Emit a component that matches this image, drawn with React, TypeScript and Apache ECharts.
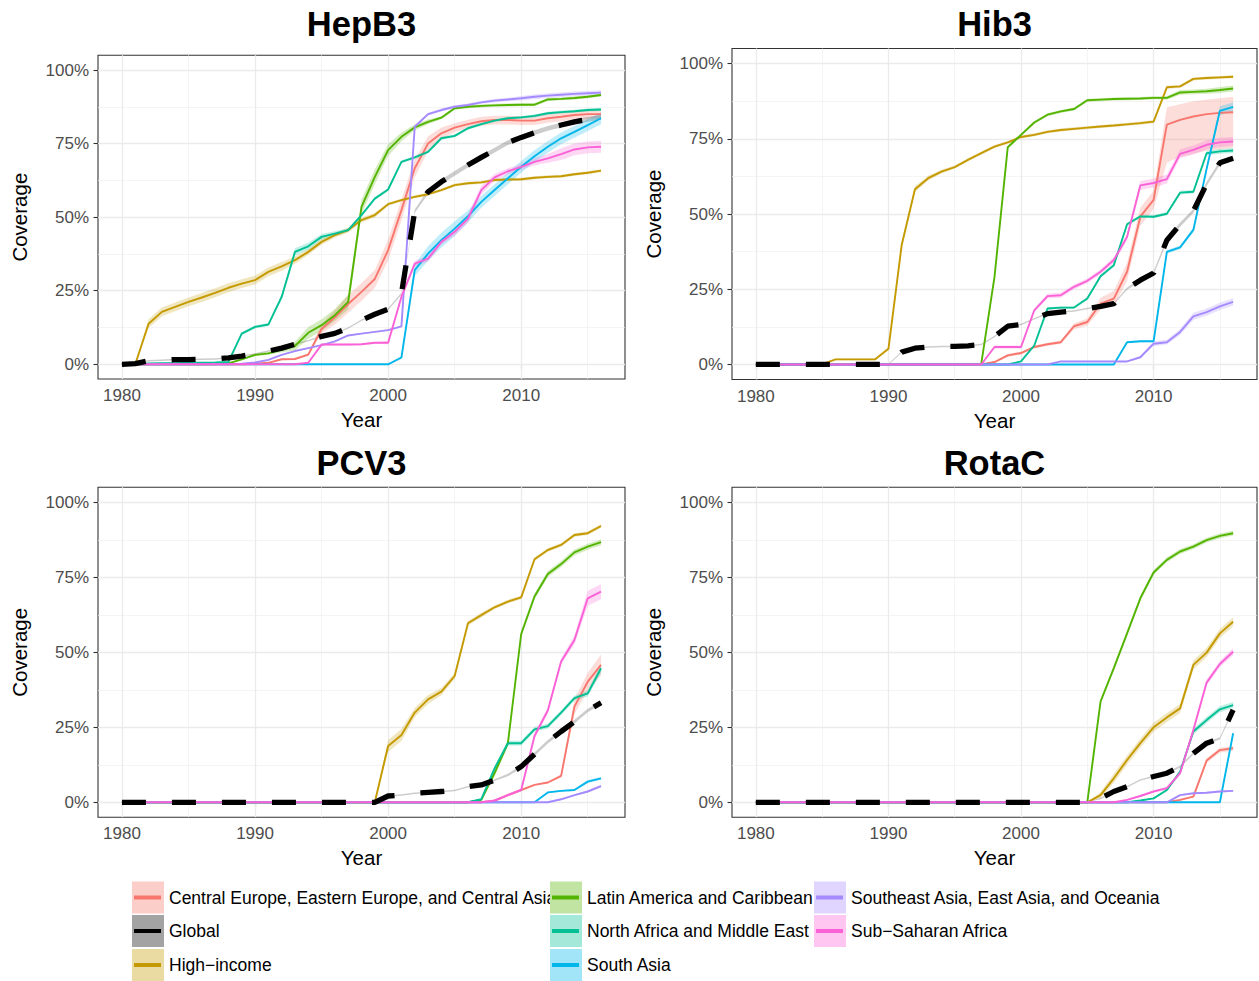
import React, { useEffect, useRef } from "react";
import * as echarts from "echarts";

// ---------------- categories ----------------
const YEARS = [
  1980, 1981, 1982, 1983, 1984, 1985, 1986, 1987, 1988, 1989,
  1990, 1991, 1992, 1993, 1994, 1995, 1996, 1997, 1998, 1999,
  2000, 2001, 2002, 2003, 2004, 2005, 2006, 2007, 2008, 2009,
  2010, 2011, 2012, 2013, 2014, 2015, 2016,
];
const REGIONS = [
  "Central Europe, Eastern Europe, and Central Asia",
  "Global",
  "High\u2212income",
  "Latin America and Caribbean",
  "North Africa and Middle East",
  "South Asia",
  "Southeast Asia, East Asia, and Oceania",
  "Sub\u2212Saharan Africa",
];
const COLORS = ["#F8766D", "#000000", "#C49A00", "#53B400", "#00C094", "#00B6EB", "#A58AFF", "#FB61D7"];
const X_TICKS = [1980, 1990, 2000, 2010];
const X_MINOR = [1985, 1995, 2005, 2015];
const Y_TICKS = [0, 25, 50, 75, 100];
const Y_MINOR = [12.5, 37.5, 62.5, 87.5];

// ---------------- HepB3 ----------------
const HEPB3_CE = [0,0,0,0,0,0,0,0,0,0, 0.2,0.5,1.7,1.8,3.3,12,16,20.5,24.6,29, 38.8,52.4,66.6,75,78.5,80.4,81.6,82.6,83,83, 82.8,82.8,83.6,84.1,84.7,85,85];
const HEPB3_GL = [0,0.2,1.2,1.4,1.6,1.6,1.7,1.8,2.2,2.8, 3.5,4.5,5.5,6.8,8,9.5,10.5,12.3,15,17, 18.7,24,52,58.6,62,64.9,67.7,70.3,72.8,75.3, 77.1,78.7,80.2,81.3,82.4,83.2,83.9];
const HEPB3_HI = [0,0,13.8,17.8,19.5,21.2,22.7,24.3,26,27.4, 28.6,31.4,33.3,35.4,38.2,41.6,43.9,45.6,49,50.7, 54.4,55.8,56.9,57.8,59.2,60.9,61.5,61.8,62.6,62.8, 62.9,63.4,63.7,63.9,64.6,65.1,65.8];
const HEPB3_LA = [0,0,0,0,0,0,0,0,0.3,1.7, 3.2,3.7,4.9,6.2,10.7,13.3,16.7,21.2,53.5,63.7, 72.8,77.3,80.5,82.4,83.8,87,87.5,87.8,88,88.1, 88.2,88.2,90,90.2,90.5,90.9,91.5];
const HEPB3_NA = [0,0,0.3,0.4,0.4,0.5,0.5,0.6,0.8,10.4, 12.7,13.5,22.9,38.2,40.1,43.3,44.4,45.6,50.7,56.3, 59.4,68.8,70.3,72.2,76.8,77.6,80.2,81.6,82.8,83.6, 83.9,84.4,85.3,85.7,86,86.4,86.6];
const HEPB3_SA = [0,0,0,0,0,0,0,0,0,0, 0,0,0,0,0,0,0,0,0,0, 0,2.3,32,37.6,42.2,46.1,50.3,55.2,59.2,63.2, 67.1,70.7,73.9,76.8,79,81.3,83.6];
const HEPB3_SE = [0,0,0,0,0,0,0,0,0,0.2, 0.6,1.5,3.2,4.5,5.5,6.5,7.8,9.8,10.4,11, 11.6,12.9,80.7,85,86.4,87.5,88.1,89,89.6,90, 90.4,90.9,91.3,91.6,91.9,92.1,92.3];
const HEPB3_SS = [0,0,0,0,0,0,0,0,0,0, 0,0,0,0,0.5,6.7,6.7,6.7,6.8,7.3, 7.3,22.9,34.2,35.9,41.6,45,49.5,59.2,63.5,65.6, 67.1,68.8,70,71.4,73,73.7,73.9];

const HEPB3_CE_BAND = [0,0,0,0,0,0,0,0,0,0, 0,0,0.3,0.3,0.5,1.5,2.5,3,3,3, 3.5,3.5,3,2.5,2,1.5,1.5,1.5,1.5,1.5, 1.5,1.5,1.5,1.5,1.5,1.5,1.5];
const HEPB3_GL_BAND = [0,0.2,0.25,0.25,0.25,0.25,0.25,0.25,0.25,0.25, 0.25,0.25,0.25,0.25,0.25,0.25,0.25,0.25,0.25,0.25, 0.3,0.4,0.6,0.7,0.8,0.8,0.8,0.8,0.8,0.8, 0.8,0.8,0.8,0.8,0.8,0.8,0.8];
const HEPB3_HI_BAND = [0,0,1.5,1.5,1.5,1.5,1.5,1.5,1.5,1.5, 1.5,1.5,1.5,1.2,1,1,0.8,0.8,0.8,0.8, 0.5,0.5,0.5,0.5,0.5,0.5,0.5,0.5,0.5,0.5, 0.5,0.5,0.5,0.5,0.5,0.5,0.5];
const HEPB3_LA_BAND = [0,0,0,0,0,0,0,0,0.2,0.3, 0.5,0.5,0.8,1.5,2,2,2,2.5,2.5,2.5, 2,1.5,1,0.8,0.5,0.5,0.5,0.5,0.5,0.5, 0.5,0.5,0.5,0.5,0.5,0.5,0.5];
const HEPB3_NA_BAND = [0,0,0.2,0.2,0.2,0.2,0.2,0.2,0.3,0.5, 0.5,0.5,0.8,1.2,1.2,1,0.8,0.6,0.5,0.5, 0.5,0.5,0.5,0.5,0.5,0.5,0.5,0.5,0.5,0.5, 0.5,0.5,0.5,0.5,0.5,0.5,0.5];
const HEPB3_SA_BAND = [0,0,0,0,0,0,0,0,0,0, 0,0,0,0,0,0,0,0,0,0, 0,0.5,2,2.5,2.5,2.5,2,2,2,2, 2,2,2,2,2,2,2];
const HEPB3_SE_BAND = [0,0,0,0,0,0,0,0,0,0, 0.2,0.2,0.2,0.2,0.2,0.2,0.2,0.2,0.2,0.2, 0.3,0.3,0.5,0.5,0.5,0.5,0.5,0.5,0.6,0.6, 0.8,0.8,0.8,0.8,0.8,0.8,0.8];
const HEPB3_SS_BAND = [0,0,0,0,0,0,0,0,0,0, 0,0,0,0,0.2,0.3,0.3,0.3,0.3,0.3, 0.5,0.8,1,1,1,1.2,1.5,1.5,1.2,1, 1,1.2,1.5,2,2,2,2];

// ---------------- Hib3 ----------------
const HIB3_CE = [0,0,0,0,0,0,0,0,0,0, 0,0,0,0,0,0,0,0,0.8,3, 3.8,5.8,6.7,7.4,12.7,14.1,20.2,21.9,30.8,49.1, 54.7,79.7,81.3,82.4,83.2,83.6,83.8];
const HIB3_GL = [0,0,0,0,0,0,0,0,0,0, 0,4.1,5.4,5.8,6,6,6.2,6.6,9.3,12.7, 13.3,15.2,16.9,17.4,17.8,18.6,19.3,20.2,25.2,28, 30.4,41.3,46.5,51,60,67,68.5];
const HIB3_HI = [0,0,0,0,0,0,1.7,1.7,1.7,1.7, 5.2,39.7,58.2,61.9,64.1,65.6,68,70.2,72.4,73.8, 75.6,76.3,77.3,77.9,78.3,78.7,79.1,79.4,79.8,80.2, 80.7,92.1,92.4,94.9,95.2,95.4,95.6];
const HIB3_LA = [0,0,0,0,0,0,0,0,0,0, 0,0,0,0,0,0,0,0.2,29.1,72.2, 76.3,80.4,83,84.1,84.9,87.8,88,88.2,88.3,88.4, 88.6,88.6,90.4,90.6,90.8,91.2,91.7];
const HIB3_NA = [0,0,0,0,0,0,0,0,0,0, 0,0,0,0,0,0,0,0,0,0, 1,6.3,18.6,18.9,18.9,21.9,29.3,33,46.6,49.2, 49.1,50.1,57.1,57.4,70.2,70.8,71.1];
const HIB3_SA = [0,0,0,0,0,0,0,0,0,0, 0,0,0,0,0,0,0,0,0,0, 0,0,0,0,0,0,0,0,7.4,7.7, 7.7,37.4,38.9,44.7,65,84.3,85.6];
const HIB3_SE = [0,0,0,0,0,0,0,0,0,0, 0,0,0,0,0,0,0,0,0,0, 0,0,0,1,1,1,1,1,1,2.4, 6.9,7.4,10.8,16,17.4,19.3,20.8];
const HIB3_SS = [0,0,0,0,0,0,0,0,0,0, 0,0,0,0,0,0,0,0,5.8,5.8, 5.8,18,22.7,23,25.8,27.8,30.8,34.7,42.4,59.5, 60.3,61.6,70,71.3,73,73.8,74.1];

const HIB3_CE_BAND = [0,0,0,0,0,0,0,0,0,0, 0,0,0,0,0,0,0,0,0.3,0.5, 0.5,0.5,0.5,0.6,1,1.2,2,2.5,3,3, 3,5.8,5.2,5.1,4.8,4.9,5.2];
const HIB3_CE_BAND_LOW = [0,0,0,0,0,0,0,0,0,0, 0,0,0,0,0,0,0,0,0.3,0.5, 0.5,0.5,0.5,0.6,1,1.2,2,2.5,3,3, 3,12.7,12.3,12.4,12.2,12.1,11.8];
const HIB3_GL_BAND = [0,0,0,0,0,0,0,0,0,0, 0.2,0.25,0.25,0.25,0.25,0.25,0.25,0.25,0.25,0.25, 0.25,0.25,0.25,0.25,0.25,0.25,0.25,0.25,0.35,0.5, 0.6,0.7,0.7,0.7,0.7,0.7,0.7];
const HIB3_HI_BAND = [0,0,0,0,0,0,0.3,0.3,0.3,0.3, 0.5,1,1,0.8,0.6,0.5,0.5,0.5,0.5,0.5, 0.5,0.5,0.5,0.5,0.5,0.5,0.5,0.5,0.5,0.5, 0.5,0.5,0.5,0.5,0.5,0.5,0.5];
const HIB3_LA_BAND = [0,0,0,0,0,0,0,0,0,0, 0,0,0,0,0,0,0,0.2,0.6,0.6, 0.5,0.5,0.5,0.5,0.5,0.5,0.5,0.5,0.5,0.5, 0.5,0.6,0.8,0.8,0.8,1,1];
const HIB3_NA_BAND = [0,0,0,0,0,0,0,0,0,0, 0,0,0,0,0,0,0,0,0,0, 0.2,0.3,0.4,0.4,0.4,0.5,0.5,0.5,0.5,0.5, 0.5,0.5,0.6,0.6,0.8,0.8,0.8];
const HIB3_SA_BAND = [0,0,0,0,0,0,0,0,0,0, 0,0,0,0,0,0,0,0,0,0, 0,0,0,0,0,0,0,0,0.3,0.3, 0.3,0.6,0.6,0.8,1,1.5,1.5];
const HIB3_SE_BAND = [0,0,0,0,0,0,0,0,0,0, 0,0,0,0,0,0,0,0,0,0, 0,0,0,0.2,0.2,0.2,0.2,0.2,0.2,0.4, 0.8,0.8,1,1.2,1.2,1.2,1.2];
const HIB3_SS_BAND = [0,0,0,0,0,0,0,0,0,0, 0,0,0,0,0,0,0,0,0.5,0.5, 0.5,0.6,0.8,0.8,0.8,0.8,0.8,1,1.2,1.5, 1.5,1.5,1.5,1.5,1.5,1.5,1.5];

// ---------------- PCV3 ----------------
const PCV3_CE = [0,0,0,0,0,0,0,0,0,0, 0,0,0,0,0,0,0,0,0,0, 0,0,0,0,0,0,0,0,0.5,2.4, 4.1,5.8,6.6,8.8,31.9,40.2,45.8];
const PCV3_GL = [0,0,0,0,0,0,0,0,0,0, 0,0,0,0,0,0,0,0,0,0, 2.1,2.4,3,3.3,3.6,3.9,5.2,5.8,7.4,9.1, 11.9,16,20.2,23.6,26.9,30.6,33.2];
const PCV3_HI = [0,0,0,0,0,0,0,0,0,0, 0,0,0,0,0,0,0,0,0,0, 18.8,22.4,29.9,34.3,36.9,42.1,59.7,62.4,65,66.9, 68.3,81,84.1,85.8,89.1,89.7,92.1];
const PCV3_LA = [0,0,0,0,0,0,0,0,0,0, 0,0,0,0,0,0,0,0,0,0, 0,0,0,0,0,0,0,0.8,9.7,19.7, 56.1,68.6,76.1,79.4,83.3,85.2,86.7];
const PCV3_NA = [0,0,0,0,0,0,0,0,0,0, 0,0,0,0,0,0,0,0,0,0, 0,0,0,0,0,0,0,1,11.3,19.7, 19.7,24.3,25.4,29.9,34.7,36.3,44.7];
const PCV3_SA = [0,0,0,0,0,0,0,0,0,0, 0,0,0,0,0,0,0,0,0,0, 0,0,0,0,0,0,0,0,0,0, 0,0,3.3,3.8,4.1,6.9,8];
const PCV3_SE = [0,0,0,0,0,0,0,0,0,0, 0,0,0,0,0,0,0,0,0,0, 0,0,0,0,0,0,0,0,0,0, 0,0,0,1,2.4,3.6,5.4];
const PCV3_SS = [0,0,0,0,0,0,0,0,0,0, 0,0,0,0,0,0,0,0,0,0, 0,0,0,0,0,0,0,0,0.6,2.4, 4.1,22.1,30.6,46.9,54.1,68,70.2];

const PCV3_CE_BAND = [0,0,0,0,0,0,0,0,0,0, 0,0,0,0,0,0,0,0,0,0, 0,0,0,0,0,0,0,0,0,0, 0,0,0.3,0.5,2.5,3,3.5];
const PCV3_GL_BAND = [0,0,0,0,0,0,0,0,0,0, 0,0,0,0,0,0,0,0,0,0, 0.25,0.25,0.25,0.25,0.25,0.25,0.25,0.25,0.3,0.4, 0.5,0.6,0.6,0.6,0.6,0.6,0.6];
const PCV3_HI_BAND = [0,0,0,0,0,0,0,0,0,0, 0,0,0,0,0,0,0,0,0,0, 2,2,1.5,1.5,1.2,1,0.8,0.8,0.6,0.6, 0.6,0.6,0.6,0.6,0.6,0.6,0.6];
const PCV3_LA_BAND = [0,0,0,0,0,0,0,0,0,0, 0,0,0,0,0,0,0,0,0,0, 0,0,0,0,0,0,0,0.3,1,1, 1,1,1,1,1,1,1];
const PCV3_NA_BAND = [0,0,0,0,0,0,0,0,0,0, 0,0,0,0,0,0,0,0,0,0, 0,0,0,0,0,0,0,0.3,0.8,0.8, 0.8,0.8,0.8,0.8,0.8,1,1.5];
const PCV3_SA_BAND = [0,0,0,0,0,0,0,0,0,0, 0,0,0,0,0,0,0,0,0,0, 0,0,0,0,0,0,0,0,0,0, 0,0,0.3,0.3,0.3,0.5,0.5];
const PCV3_SE_BAND = [0,0,0,0,0,0,0,0,0,0, 0,0,0,0,0,0,0,0,0,0, 0,0,0,0,0,0,0,0,0,0, 0,0,0,0.3,0.3,0.4,0.5];
const PCV3_SS_BAND = [0,0,0,0,0,0,0,0,0,0, 0,0,0,0,0,0,0,0,0,0, 0,0,0,0,0,0,0,0,0.3,0.5, 0.5,1,1,1,1.5,2.5,2.5];

// ---------------- RotaC ----------------
const ROTAC_CE = [0,0,0,0,0,0,0,0,0,0, 0,0,0,0,0,0,0,0,0,0, 0,0,0,0,0,0,0,0,0,0, 0,0,0.8,1.9,13.9,17.4,18];
const ROTAC_GL = [0,0,0,0,0,0,0,0,0,0, 0,0,0,0,0,0,0,0,0,0, 0,0,0,0,0,0,1.3,3.6,5.2,7.4, 8.6,9.7,11.9,16.3,19.7,21.3,30.8];
const ROTAC_HI = [0,0,0,0,0,0,0,0,0,0, 0,0,0,0,0,0,0,0,0,0, 0,0,0,0,0,0,2.4,8,14.1,19.7, 25,28.3,31.3,45.8,49.9,56.3,60.2];
const ROTAC_LA = [0,0,0,0,0,0,0,0,0,0, 0,0,0,0,0,0,0,0,0,0, 0,0,0,0,0,0,33.6,44.7,56.3,68, 76.6,80.8,83.6,85.2,87.4,88.8,89.7];
const ROTAC_NA = [0,0,0,0,0,0,0,0,0,0, 0,0,0,0,0,0,0,0,0,0, 0,0,0,0,0,0,0,0,0,0.6, 1.3,4.1,10.2,23.6,27.4,31,32.4];
const ROTAC_SA = [0,0,0,0,0,0,0,0,0,0, 0,0,0,0,0,0,0,0,0,0, 0,0,0,0,0,0,0,0,0,0, 0,0,0,0,0,0,23];
const ROTAC_SE = [0,0,0,0,0,0,0,0,0,0, 0,0,0,0,0,0,0,0,0,0, 0,0,0,0,0,0,0,0,0,0, 0,0,2.4,3,3.2,3.6,3.8];
const ROTAC_SS = [0,0,0,0,0,0,0,0,0,0, 0,0,0,0,0,0,0,0,0,0, 0,0,0,0,0,0,0,0,0.8,2.1, 3.6,4.7,9.7,24.1,39.9,46.1,50.2];

const ROTAC_CE_BAND = [0,0,0,0,0,0,0,0,0,0, 0,0,0,0,0,0,0,0,0,0, 0,0,0,0,0,0,0,0,0,0, 0,0,0.3,0.3,0.8,0.8,0.8];
const ROTAC_GL_BAND = [0,0,0,0,0,0,0,0,0,0, 0,0,0,0,0,0,0,0,0,0, 0,0,0,0,0,0,0.25,0.25,0.25,0.25, 0.25,0.3,0.35,0.4,0.4,0.4,0.5];
const ROTAC_HI_BAND = [0,0,0,0,0,0,0,0,0,0, 0,0,0,0,0,0,0,0,0,0, 0,0,0,0,0,0,1,1.5,1.5,1.5, 1.5,1.5,1.5,1.5,1.5,1.5,1.5];
const ROTAC_LA_BAND = [0,0,0,0,0,0,0,0,0,0, 0,0,0,0,0,0,0,0,0,0, 0,0,0,0,0,0,0.8,0.8,0.8,0.8, 0.8,0.8,0.8,0.8,0.8,0.8,0.8];
const ROTAC_NA_BAND = [0,0,0,0,0,0,0,0,0,0, 0,0,0,0,0,0,0,0,0,0, 0,0,0,0,0,0,0,0,0,0.2, 0.3,0.5,0.8,1,1,1,1];
const ROTAC_SA_BAND = [0,0,0,0,0,0,0,0,0,0, 0,0,0,0,0,0,0,0,0,0, 0,0,0,0,0,0,0,0,0,0, 0,0,0,0,0,0,0.5];
const ROTAC_SE_BAND = [0,0,0,0,0,0,0,0,0,0, 0,0,0,0,0,0,0,0,0,0, 0,0,0,0,0,0,0,0,0,0, 0,0,0.3,0.3,0.3,0.3,0.3];
const ROTAC_SS_BAND = [0,0,0,0,0,0,0,0,0,0, 0,0,0,0,0,0,0,0,0,0, 0,0,0,0,0,0,0,0,0.2,0.3, 0.3,0.5,0.8,1,1,1,1.2];

// ---------------- panels (layout kept separate from data) ----------------
const FONT = '"Liberation Sans", Arial, Helvetica, sans-serif';

const PANELS = [
  {
    title: "HepB3", left: 98, top: 55.3, width: 527, height: 323.7, titleY: 24,
    values: [HEPB3_CE, HEPB3_GL, HEPB3_HI, HEPB3_LA, HEPB3_NA, HEPB3_SA, HEPB3_SE, HEPB3_SS],
    upper: [HEPB3_CE_BAND, HEPB3_GL_BAND, HEPB3_HI_BAND, HEPB3_LA_BAND, HEPB3_NA_BAND, HEPB3_SA_BAND, HEPB3_SE_BAND, HEPB3_SS_BAND],
    lower: [HEPB3_CE_BAND, HEPB3_GL_BAND, HEPB3_HI_BAND, HEPB3_LA_BAND, HEPB3_NA_BAND, HEPB3_SA_BAND, HEPB3_SE_BAND, HEPB3_SS_BAND],
  },
  {
    title: "Hib3", left: 732, top: 48.5, width: 525, height: 331, titleY: 24,
    values: [HIB3_CE, HIB3_GL, HIB3_HI, HIB3_LA, HIB3_NA, HIB3_SA, HIB3_SE, HIB3_SS],
    upper: [HIB3_CE_BAND, HIB3_GL_BAND, HIB3_HI_BAND, HIB3_LA_BAND, HIB3_NA_BAND, HIB3_SA_BAND, HIB3_SE_BAND, HIB3_SS_BAND],
    lower: [HIB3_CE_BAND_LOW, HIB3_GL_BAND, HIB3_HI_BAND, HIB3_LA_BAND, HIB3_NA_BAND, HIB3_SA_BAND, HIB3_SE_BAND, HIB3_SS_BAND],
  },
  {
    title: "PCV3", left: 98, top: 487.3, width: 527, height: 330, titleY: 463,
    values: [PCV3_CE, PCV3_GL, PCV3_HI, PCV3_LA, PCV3_NA, PCV3_SA, PCV3_SE, PCV3_SS],
    upper: [PCV3_CE_BAND, PCV3_GL_BAND, PCV3_HI_BAND, PCV3_LA_BAND, PCV3_NA_BAND, PCV3_SA_BAND, PCV3_SE_BAND, PCV3_SS_BAND],
    lower: [PCV3_CE_BAND, PCV3_GL_BAND, PCV3_HI_BAND, PCV3_LA_BAND, PCV3_NA_BAND, PCV3_SA_BAND, PCV3_SE_BAND, PCV3_SS_BAND],
  },
  {
    title: "RotaC", left: 732, top: 487.3, width: 525, height: 330, titleY: 463,
    values: [ROTAC_CE, ROTAC_GL, ROTAC_HI, ROTAC_LA, ROTAC_NA, ROTAC_SA, ROTAC_SE, ROTAC_SS],
    upper: [ROTAC_CE_BAND, ROTAC_GL_BAND, ROTAC_HI_BAND, ROTAC_LA_BAND, ROTAC_NA_BAND, ROTAC_SA_BAND, ROTAC_SE_BAND, ROTAC_SS_BAND],
    lower: [ROTAC_CE_BAND, ROTAC_GL_BAND, ROTAC_HI_BAND, ROTAC_LA_BAND, ROTAC_NA_BAND, ROTAC_SA_BAND, ROTAC_SE_BAND, ROTAC_SS_BAND],
  },
];

// legend layout: column x and row centre y for each region
const LEGEND_POS = [
  [132, 897.5], [132, 931], [132, 965],
  [550, 897.5], [550, 931], [550, 965],
  [814, 897.5], [814, 931],
];

function rgba(hex: string, a: number) {
  const n = parseInt(hex.slice(1), 16);
  return `rgba(${(n >> 16) & 255},${(n >> 8) & 255},${n & 255},${a})`;
}
function blendWhite(hex: string, a: number) {
  const n = parseInt(hex.slice(1), 16);
  const c = [(n >> 16) & 255, (n >> 8) & 255, n & 255].map((v) => Math.round(255 - (255 - v) * a));
  return `rgb(${c[0]},${c[1]},${c[2]})`;
}

function buildOption() {
  const grid: any[] = [];
  const xAxis: any[] = [];
  const yAxis: any[] = [];
  const series: any[] = [];
  const graphic: any[] = [];

  PANELS.forEach((p, i) => {
    grid.push({
      left: p.left, top: p.top, width: p.width, height: p.height,
      show: true, borderColor: "#333333", borderWidth: 1.1, backgroundColor: "#ffffff",
      containLabel: false, outerBoundsMode: "none",
    });
    xAxis.push({
      type: "value", gridIndex: i, min: 1978.2, max: 2017.8,
      axisLine: { show: false },
      axisTick: { show: true, customValues: X_TICKS, length: 4.5, lineStyle: { color: "#333333", width: 1.1 } },
      axisLabel: { show: true, customValues: X_TICKS, color: "#4D4D4D", fontSize: 17, fontFamily: FONT, margin: 8, formatter: (v: number) => String(v) },
      splitLine: { show: false },
      name: "Year", nameLocation: "middle", nameGap: 30,
      nameTextStyle: { color: "#000000", fontSize: 20.5, fontFamily: FONT },
    });
    yAxis.push({
      type: "value", gridIndex: i, min: -5, max: 105,
      axisLine: { show: false },
      axisTick: { show: true, customValues: Y_TICKS, length: 4.5, lineStyle: { color: "#333333", width: 1.1 } },
      axisLabel: { show: true, customValues: Y_TICKS, color: "#4D4D4D", fontSize: 17, fontFamily: FONT, margin: 9, formatter: (v: number) => v + "%" },
      splitLine: { show: false },
      name: "Coverage", nameLocation: "middle", nameGap: 68, nameRotate: 90,
      nameTextStyle: { color: "#000000", fontSize: 20.5, fontFamily: FONT },
    });

    // grid lines through the axis scales (kept underneath everything)
    const major = { color: "#EBEBEB", type: "solid", width: 1.3 };
    const minor = { color: "#EFEFEF", type: "solid", width: 0.7 };
    series.push({
      type: "line", xAxisIndex: i, yAxisIndex: i, data: [], silent: true, z: 1,
      markLine: {
        z: 1, silent: true, symbol: ["none", "none"], label: { show: false }, animation: false,
        emphasis: { disabled: true }, lineStyle: major,
        data: [
          ...Y_MINOR.map((v) => ({ yAxis: v, lineStyle: minor })),
          ...X_MINOR.map((v) => ({ xAxis: v, lineStyle: minor })),
          ...Y_TICKS.map((v) => ({ yAxis: v, lineStyle: major })),
          ...X_TICKS.map((v) => ({ xAxis: v, lineStyle: major })),
        ],
      },
    });

    // uncertainty ribbons
    p.values.forEach((vals, r) => {
      const up = p.upper[r];
      const lo = p.lower[r];
      const fill = r === 1 ? "rgba(0,0,0,0.2)" : rgba(COLORS[r], 0.25);
      series.push({
        type: "custom", name: REGIONS[r] + " band", xAxisIndex: i, yAxisIndex: i,
        coordinateSystem: "cartesian2d", clip: true, silent: true, z: 2,
        data: YEARS.map((y, k) => [y, vals[k]]),
        encode: { x: 0, y: 1 },
        renderItem: (params: any, api: any) => {
          if (params.dataIndex !== 0) return null;
          const top: number[][] = [];
          const bot: number[][] = [];
          for (let k = 0; k < YEARS.length; k++) {
            top.push(api.coord([YEARS[k], vals[k] + up[k]]));
            bot.push(api.coord([YEARS[k], vals[k] - lo[k]]));
          }
          return {
            type: "polygon",
            shape: { points: top.concat(bot.reverse()) },
            style: { fill, stroke: null },
          };
        },
      });
    });

    // coloured lines
    p.values.forEach((vals, r) => {
      if (r === 1) return;
      series.push({
        type: "line", name: REGIONS[r], xAxisIndex: i, yAxisIndex: i,
        data: YEARS.map((y, k) => [y, vals[k]]),
        symbol: "none", showSymbol: false, silent: true, z: 3 + r * 0.01,
        lineStyle: { color: COLORS[r], width: 1.9 },
        emphasis: { disabled: true },
      });
    });
    // global dashed line
    series.push({
      type: "line", name: REGIONS[1], xAxisIndex: i, yAxisIndex: i,
      data: YEARS.map((y, k) => [y, p.values[1][k]]),
      symbol: "none", showSymbol: false, silent: true, z: 4,
      lineStyle: { color: "#000000", width: 5.3, type: [24, 26], cap: "butt" },
      emphasis: { disabled: true },
    });

    graphic.push({
      type: "text", x: p.left + p.width / 2, y: p.titleY, silent: true,
      style: {
        text: p.title, font: `bold 34.5px ${FONT}`, fill: "#000000",
        textAlign: "center", textVerticalAlign: "middle", align: "center", verticalAlign: "middle",
      },
    });
  });

  // legend
  REGIONS.forEach((name, r) => {
    const [x, cy] = LEGEND_POS[r];
    const keyFill = r === 1 ? "rgb(163,163,163)" : blendWhite(COLORS[r], 0.36);
    graphic.push({ type: "rect", shape: { x, y: cy - 16, width: 32, height: 32 }, style: { fill: keyFill }, silent: true });
    graphic.push({ type: "line", shape: { x1: x + 2, y1: cy, x2: x + 29, y2: cy }, style: { stroke: COLORS[r], lineWidth: 4 }, silent: true });
    graphic.push({
      type: "text", x: x + 37, y: cy, silent: true,
      style: {
        text: name, font: `17.5px ${FONT}`, fill: "#000000",
        textAlign: "left", textVerticalAlign: "middle", align: "left", verticalAlign: "middle",
      },
    });
  });

  return {
    animation: false,
    backgroundColor: "#ffffff",
    textStyle: { fontFamily: FONT },
    grid, xAxis, yAxis, series, graphic,
    tooltip: { show: false },
  };
}

export default function App() {
  const ref = useRef<HTMLDivElement>(null);
  useEffect(() => {
    if (!ref.current) return;
    const chart = echarts.init(ref.current, null, { renderer: "svg" });
    chart.setOption(buildOption() as any);
    return () => chart.dispose();
  }, []);
  return (
    <div
      ref={ref}
      style={{ position: "absolute", left: 0, top: 0, width: 1259, height: 981, background: "#ffffff" }}
    />
  );
}
